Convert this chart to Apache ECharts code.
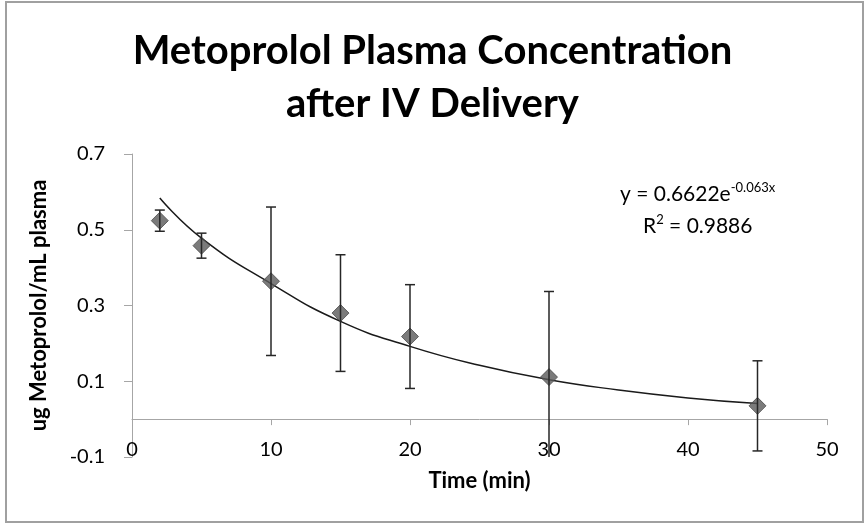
<!DOCTYPE html>
<html>
<head>
<meta charset="utf-8">
<script src="https://cdn.jsdelivr.net/npm/echarts@6/dist/echarts.min.js"></script>
<style>
  html, body { margin: 0; padding: 0; background: #fff; }
  #chart { width: 865px; height: 524px; }
</style>
</head>
<body>
<div id="chart"></div>
<script>
// measured samples (min, ug/mL)
var times = [2, 5, 10, 15, 20, 30, 45];
var means = [0.524, 0.458, 0.364, 0.280, 0.218, 0.111, 0.035];
var errs = [0.028, 0.033, 0.196, 0.154, 0.137, 0.226, 0.119];

// exponential trendline
var trendX = [2, 5, 10, 15, 20, 25, 30, 35, 40, 45];
var trendY = [0.584, 0.478, 0.358, 0.258, 0.192, 0.142, 0.104, 0.077, 0.056, 0.041];

var yTicks = [-0.1, 0.1, 0.3, 0.5, 0.7];
var xTicks = [0, 10, 20, 30, 40, 50];

var FONT = 'Lato';

var points = times.map(function (t, i) { return [t, means[i]]; });
var bars = times.map(function (t, i) { return [t, means[i] - errs[i], means[i] + errs[i]]; });
var trend = trendX.map(function (t, i) { return [t, trendY[i]]; });

var chart = echarts.init(document.getElementById('chart'));

var option = {
    backgroundColor: '#fff',
    animation: false,
    title: {
        text: 'Metoprolol Plasma Concentration\nafter IV Delivery',
        left: 'center',
        top: 20,
        textStyle: {
            fontFamily: FONT,
            fontSize: 40,
            fontWeight: 'bold',
            color: '#000',
            lineHeight: 53
        }
    },
    grid: {
        left: 132,
        right: 38,
        top: 154,
        bottom: 67,
        outerBoundsMode: 'none'
    },
    xAxis: {
        type: 'value',
        min: 0,
        max: 50,
        interval: 10,
        name: 'Time (min)',
        nameLocation: 'middle',
        nameGap: 13,
        nameTextStyle: { fontFamily: FONT, fontSize: 22, fontWeight: 'bold', color: '#000' },
        axisLine: { onZero: true, lineStyle: { color: '#a6a6a6', width: 1 } },
        axisTick: { show: true, length: 6, lineStyle: { color: '#a6a6a6' }, customValues: xTicks },
        axisLabel: { margin: -17, fontFamily: FONT, fontSize: 20, color: '#000', customValues: xTicks },
        splitLine: { show: false }
    },
    yAxis: {
        type: 'value',
        min: -0.1,
        max: 0.7,
        interval: 0.1,
        name: 'ug Metoprolol/mL plasma',
        nameLocation: 'middle',
        nameGap: 82,
        nameTextStyle: { fontFamily: FONT, fontSize: 22, fontWeight: 'bold', color: '#000' },
        axisLine: { show: true, lineStyle: { color: '#a6a6a6', width: 1 } },
        axisTick: { show: true, length: 8, lineStyle: { color: '#a6a6a6' }, customValues: yTicks },
        axisLabel: {
            margin: 27,
            fontFamily: FONT,
            fontSize: 20,
            color: '#000',
            customValues: yTicks,
            formatter: function (v) { return (Math.round(v * 10) / 10).toString(); }
        },
        splitLine: { show: false }
    },
    graphic: [
        {
            type: 'rect',
            shape: { x: 6, y: 2, width: 857, height: 520 },
            style: { fill: 'none', stroke: '#a0a0a0', lineWidth: 2 },
            z: 100
        },
        {
            type: 'text',
            left: 620,
            top: 181,
            style: {
                text: '{a|y = 0.6622e}{s|-0.063x}',
                rich: {
                    a: { fontFamily: FONT, fontSize: 21, fill: '#000', lineHeight: 26 },
                    s: { fontFamily: FONT, fontSize: 13, fill: '#000', verticalAlign: 'top', lineHeight: 16 }
                }
            }
        },
        {
            type: 'text',
            left: 643,
            top: 213,
            style: {
                text: '{a|R}{s|2}{a| = 0.9886}',
                rich: {
                    a: { fontFamily: FONT, fontSize: 21, fill: '#000', lineHeight: 26 },
                    s: { fontFamily: FONT, fontSize: 13, fill: '#000', verticalAlign: 'top', lineHeight: 16 }
                }
            }
        }
    ],
    series: [
        {
            type: 'line',
            data: trend,
            smooth: true,
            showSymbol: false,
            lineStyle: { color: '#1a1a1a', width: 1.5 },
            z: 2
        },
        {
            type: 'scatter',
            data: points,
            symbol: 'diamond',
            symbolSize: 17,
            itemStyle: { color: '#5a5a5a', borderColor: '#4a4a4a', borderWidth: 1 },
            z: 3
        },
        {
            type: 'custom',
            data: bars,
            clip: true,
            z: 4,
            renderItem: function (params, api) {
                var x = api.value(0);
                var lo = api.coord([x, api.value(1)]);
                var hi = api.coord([x, api.value(2)]);
                var w = 5;
                var st = { stroke: '#262626', lineWidth: 1.5 };
                return {
                    type: 'group',
                    children: [
                        { type: 'line', shape: { x1: hi[0], y1: hi[1], x2: lo[0], y2: lo[1] }, style: st },
                        { type: 'line', shape: { x1: hi[0] - w, y1: hi[1], x2: hi[0] + w, y2: hi[1] }, style: st },
                        { type: 'line', shape: { x1: lo[0] - w, y1: lo[1], x2: lo[0] + w, y2: lo[1] }, style: st }
                    ]
                };
            }
        }
    ]
};

chart.setOption(option);
</script>
</body>
</html>
